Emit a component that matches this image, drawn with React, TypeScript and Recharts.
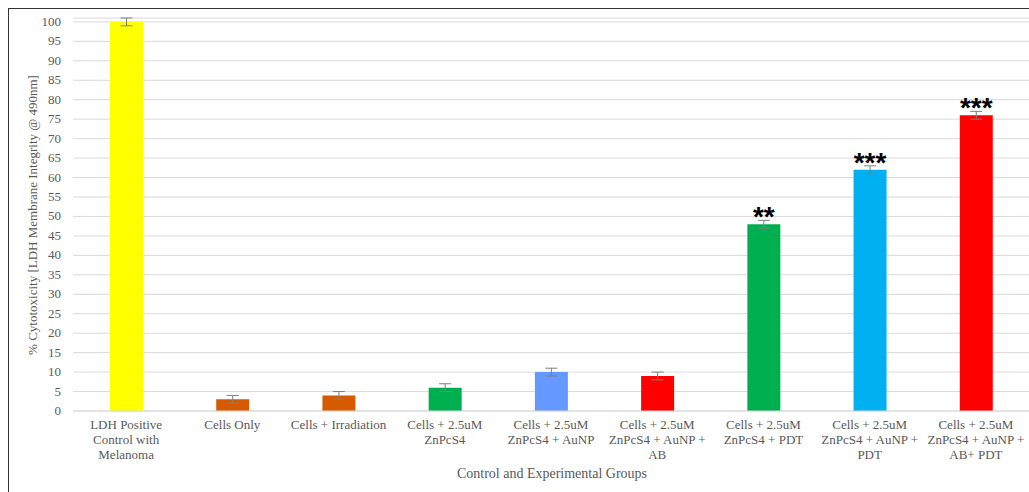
import React from "react";
import {
  BarChart,
  Bar,
  XAxis,
  YAxis,
  CartesianGrid,
  ErrorBar,
  LabelList,
  Label,
  Cell,
} from "recharts";

const GROUPS = [
  "LDH Positive\nControl with\nMelanoma",
  "Cells Only",
  "Cells + Irradiation",
  "Cells + 2.5uM\nZnPcS4",
  "Cells + 2.5uM\nZnPcS4 + AuNP",
  "Cells + 2.5uM\nZnPcS4 + AuNP +\nAB",
  "Cells + 2.5uM\nZnPcS4 + PDT",
  "Cells + 2.5uM\nZnPcS4 + AuNP +\nPDT",
  "Cells + 2.5uM\nZnPcS4 + AuNP +\nAB+ PDT",
];
const CYTOTOXICITY = [100, 3, 4, 6, 10, 9, 48, 62, 76];
const ERRORS = [1, 1, 1, 1, 1, 1, 1, 1, 1];
const SIGNIFICANCE = ["", "", "", "", "", "", "**", "***", "***"];
const BAR_COLORS = [
  "#FFFF00",
  "#D55A00",
  "#D55A00",
  "#00B050",
  "#6699FF",
  "#FF0000",
  "#00B050",
  "#00B0F0",
  "#FF0000",
];
const Y_TICKS = [0, 5, 10, 15, 20, 25, 30, 35, 40, 45, 50, 55, 60, 65, 70, 75, 80, 85, 90, 95, 100];

const data = GROUPS.map((name, i) => ({
  name,
  value: CYTOTOXICITY[i],
  err: ERRORS[i],
  sig: SIGNIFICANCE[i],
}));

const FONT = "'Liberation Serif', 'Times New Roman', serif";
const TEXT_GRAY = "#595959";

// multi-line category labels, split on \n
const GroupTick = ({ x, y, payload }: any) => {
  const lines = String(payload.value).split("\n");
  return (
    <text x={x} y={y} textAnchor="middle" fill={TEXT_GRAY} style={{ fontFamily: FONT, fontSize: 13 }}>
      {lines.map((line, i) => (
        <tspan key={i} x={x} dy={i === 0 ? 10 : 15}>
          {line}
        </tspan>
      ))}
    </text>
  );
};

const ValueTick = ({ x, y, payload }: any) => (
  <text x={x} y={y} dy={4} textAnchor="end" fill={TEXT_GRAY} style={{ fontFamily: FONT, fontSize: 13 }}>
    {payload.value}
  </text>
);

export default function App() {
  // absolutely placed so the page never grows a scrollbar
  return (
    <div
      style={{
        position: "absolute",
        left: 8,
        top: 8,
        width: 1020,
        height: 483,
        overflow: "hidden",
        borderTop: "1px solid #333",
        borderLeft: "1px solid #333",
        background: "#fff",
        fontFamily: FONT,
      }}
    >
      <BarChart
        width={1020}
        height={483}
        data={data}
        margin={{ top: 9, right: 0, bottom: 0, left: 0 }}
        barSize={33}
      >
        <CartesianGrid vertical={false} stroke="#d9d9d9" />
        <XAxis
          dataKey="name"
          interval={0}
          tickLine={false}
          axisLine={{ stroke: "#d9d9d9" }}
          tick={<GroupTick />}
          height={81}
        >
          <Label
            content={() => (
              <text x={543} y={469} textAnchor="middle" fill={TEXT_GRAY} style={{ fontFamily: FONT, fontSize: 14 }}>
                Control and Experimental Groups
              </text>
            )}
          />
        </XAxis>
        <YAxis
          domain={[0, 100]}
          ticks={Y_TICKS}
          interval={0}
          width={64}
          tickLine={false}
          axisLine={false}
          tickMargin={6}
          tick={<ValueTick />}
        >
          <Label
            content={() => (
              <text
                x={0}
                y={0}
                transform="translate(28, 206) rotate(-90)"
                textAnchor="middle"
                fill={TEXT_GRAY}
                style={{ fontFamily: FONT, fontSize: 13 }}
              >
                % Cytotoxicity [LDH Membrane Integrity @ 490nm]
              </text>
            )}
          />
        </YAxis>
        <Bar dataKey="value" isAnimationActive={false}>
          {data.map((d, i) => (
            <Cell key={i} fill={BAR_COLORS[i]} />
          ))}
          <ErrorBar dataKey="err" width={6} stroke="#7f7f7f" strokeWidth={1} />
          <LabelList
            dataKey="sig"
            position="top"
            offset={-2}
            fill="#000"
            fontSize={28}
            fontWeight="bold"
            fontFamily="'Liberation Sans', Arial, sans-serif"
          />
        </Bar>
      </BarChart>
    </div>
  );
}
